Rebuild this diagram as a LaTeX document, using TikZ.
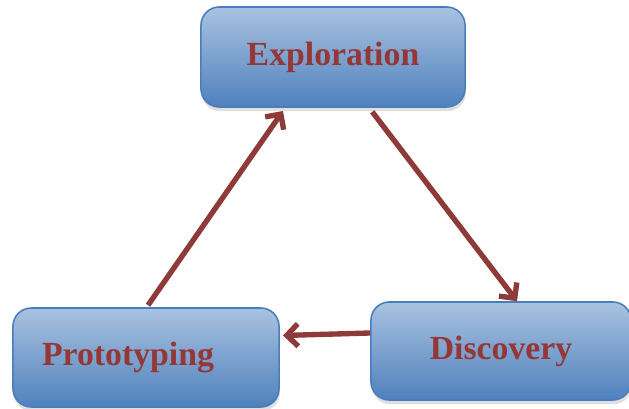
\documentclass[tikz,border=0pt]{standalone}
\usepackage{fontspec}
\setmainfont{Liberation Serif}
\usetikzlibrary{arrows.meta,shadows}
\definecolor{boxtop}{HTML}{A9C2E0}
\definecolor{boxbot}{HTML}{4F81BD}
\definecolor{boxline}{HTML}{4A7EBB}
\definecolor{wine}{HTML}{953735}
\definecolor{arrowred}{HTML}{8E3A38}

\begin{document}
\begin{tikzpicture}[
  x=0.025cm, y=0.025cm,
  font=\fontsize{24}{28}\selectfont\bfseries,
  >={Straight Barb[length=8pt, width=16pt]},
  stage/.style={draw=boxline, line width=1.1pt, rounded corners=13pt,
    top color=boxtop, bottom color=boxbot, text=wine,
    minimum width=6.6cm, minimum height=2.5cm,
    drop shadow={shadow xshift=0.5pt, shadow yshift=-3pt, opacity=0.25}},
  flow/.style={->, draw=arrowred, line width=3.8pt}]
  \useasboundingbox (0,0) rectangle (629,408);
  % etapas
  \node[stage] (expl) at (333,351) {\raisebox{-0.07cm}{Exploration}};
  \node[stage, minimum width=6.65cm, minimum height=2.475cm] (proto) at (146,50.5) {Prototyping\kern0.9cm};
  \node[stage, minimum width=6.5cm, minimum height=2.45cm] (disc) at (501,57) {\raisebox{-0.05cm}{Discovery}};
  % ciclo
  \draw[flow] ([xshift=0.05cm, yshift=0.05cm]proto.north) -- ([xshift=-1.25cm, yshift=-0.08cm]expl.south);
  \draw[flow] ([xshift=0.98cm, yshift=-0.1cm]expl.south) -- ([xshift=0.4cm]disc.north);
  \draw[flow] ([yshift=0.45cm]disc.west) -- ([xshift=0.08cm, yshift=0.55cm]proto.east);
\end{tikzpicture}
\end{document}
